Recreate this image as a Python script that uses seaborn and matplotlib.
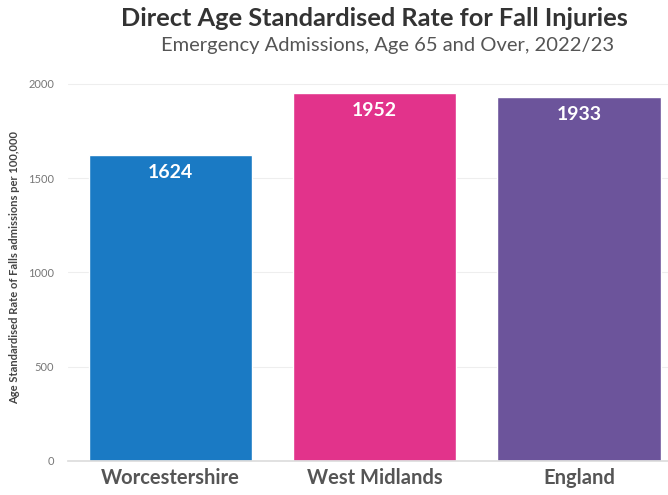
import matplotlib
matplotlib.use("Agg")
import matplotlib.pyplot as plt
import seaborn as sns
import pandas as pd

# chart data
areas = ["Worcestershire", "West Midlands", "England"]
rates = [1624, 1952, 1933]
bar_colours = ["#1a7ac4", "#e2338b", "#6c549b"]
y_ticks = [0, 500, 1000, 1500, 2000]

sns.set_theme(style="white")
plt.rcParams['font.family'] = ['Lato', 'DejaVu Sans']

df = pd.DataFrame({'area': areas, 'rate': rates})

fig = plt.figure(figsize=(6.68, 4.95), dpi=100)
ax = fig.add_axes([0.102, 0.0687, 0.898, 0.78])

sns.barplot(data=df, x='area', y='rate', hue='area', palette=bar_colours,
            width=0.8, legend=False, ax=ax, saturation=1)

ax.set_xlim(-0.5, 2.435)
ax.set_ylim(0, 2048)
ax.set_yticks(y_ticks)
ax.set_yticklabels([str(t) for t in y_ticks], fontsize=8, color='#777777')
ax.yaxis.grid(True, color='#eeeeee', linewidth=0.8)
ax.set_axisbelow(True)
ax.tick_params(axis='x', length=0, pad=5)
ax.tick_params(axis='y', length=0, pad=10)
for lbl in ax.get_xticklabels():
    lbl.set_fontsize(14.5)
    lbl.set_fontweight('bold')
    lbl.set_color('#555555')

for s in ['top', 'right', 'left']:
    ax.spines[s].set_visible(False)
ax.spines['bottom'].set_color('#dddddd')

ax.set_xlabel('')
ax.set_ylabel('Age Standardised Rate of Falls admissions per 100,000',
              fontsize=8, fontweight='bold', color='#444444', labelpad=6)

for i, v in enumerate(rates):
    ax.text(i, v - 95, str(v), ha='center', va='center', color='white',
            fontsize=14, fontweight='bold')

fig.text(0.56, 0.962, 'Direct Age Standardised Rate for Fall Injuries',
         ha='center', va='center', fontsize=18.3, fontweight='bold', color='#333333')
fig.text(0.58, 0.908, 'Emergency Admissions, Age 65 and Over, 2022/23',
         ha='center', va='center', fontsize=14.5, color='#555555')

fig.savefig('out.png', dpi=100)
